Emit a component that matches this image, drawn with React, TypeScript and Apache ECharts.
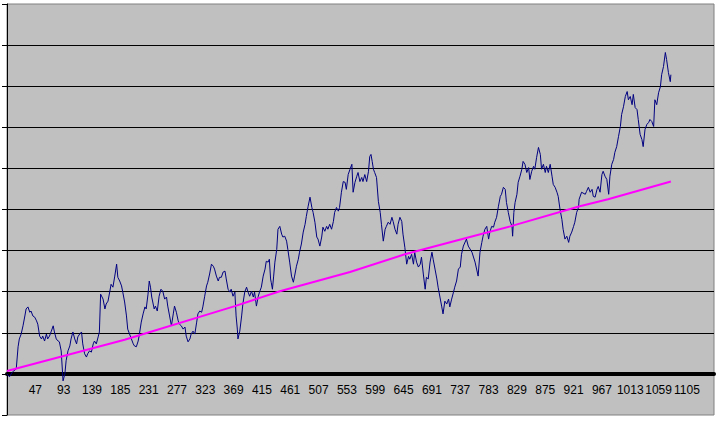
import React, { useEffect, useRef } from "react";
import * as echarts from "echarts";

// [category index (1-based), value]
const navyPoints: [number, number][] = [
  [1, 0.0], [5, -0.07], [10, 0.05], [16, 0.12], [19, 0.66], [21, 0.85], [24, 0.97], [27, 1.17], [30, 1.41], [32, 1.58],
  [35, 1.63], [38, 1.5], [40, 1.53], [43, 1.41], [46, 1.38], [49, 1.29], [51, 1.21], [54, 0.92], [57, 0.85], [59, 0.92],
  [62, 0.8], [65, 0.97], [67, 0.85], [70, 0.92], [73, 1.04], [76, 1.17], [78, 1.02], [81, 0.85], [84, 0.8], [86, 0.78],
  [89, 0.56], [92, -0.17], [95, 0.0], [97, 0.32], [100, 0.56], [103, 0.68], [105, 0.85], [108, 1.02], [111, 0.85], [114, 0.73],
  [116, 0.9], [119, 0.97], [122, 1.02], [124, 0.73], [127, 0.49], [130, 0.41], [132, 0.49], [135, 0.56], [138, 0.53], [141, 0.73],
  [143, 0.8], [146, 0.73], [149, 0.9], [151, 1.02], [153, 1.94], [157, 1.82], [160, 1.58], [162, 1.7], [165, 1.77], [168, 2.01],
  [170, 2.18], [173, 2.11], [176, 2.38], [179, 2.67], [181, 2.35], [184, 2.26], [187, 2.14], [189, 1.99], [192, 1.75], [195, 1.41],
  [197, 1.09], [200, 0.97], [203, 0.85], [206, 0.73], [208, 0.68], [211, 0.66], [214, 0.8], [216, 0.97], [219, 1.26], [222, 1.46],
  [225, 1.63], [227, 1.58], [230, 1.94], [232, 2.26], [234, 2.11], [236, 1.87], [240, 1.58], [242, 1.65], [245, 1.53], [248, 1.89],
  [251, 2.06], [254, 2.01], [257, 1.82], [260, 1.87], [262, 1.65], [265, 1.41], [268, 1.17], [271, 1.46], [273, 1.65], [276, 1.5],
  [279, 1.29], [281, 1.21], [284, 1.17], [287, 1.09], [290, 1.14], [292, 0.92], [295, 0.78], [298, 0.85], [300, 0.97], [303, 1.04],
  [306, 0.97], [309, 1.26], [311, 1.46], [314, 1.53], [317, 1.5], [319, 1.63], [322, 1.89], [325, 2.14], [327, 2.23], [330, 2.43],
  [333, 2.67], [336, 2.62], [338, 2.55], [341, 2.38], [344, 2.26], [346, 2.35], [349, 2.35], [352, 2.48], [355, 2.5], [357, 2.31],
  [360, 2.06], [363, 1.99], [365, 2.06], [368, 1.89], [371, 1.99], [373, 1.41], [375, 1.09], [376, 0.85], [379, 1.04], [382, 1.41],
  [384, 1.7], [387, 1.99], [390, 2.11], [392, 2.01], [395, 1.89], [398, 2.01], [401, 1.87], [403, 1.99], [406, 1.65], [409, 1.89],
  [411, 1.99], [414, 2.11], [417, 2.38], [420, 2.55], [422, 2.74], [425, 2.72], [427, 2.79], [429, 2.31], [430, 2.23], [432, 2.06],
  [434, 2.38], [436, 2.72], [439, 3.03], [441, 3.52], [444, 3.59], [447, 3.4], [449, 3.33], [452, 3.35], [455, 3.23], [457, 3.03],
  [460, 2.72], [463, 2.38], [466, 2.23], [468, 2.38], [471, 2.62], [474, 2.79], [476, 2.96], [479, 3.16], [482, 3.45], [485, 3.64],
  [487, 3.83], [490, 4.08], [493, 4.3], [496, 4.05], [498, 3.93], [501, 3.69], [504, 3.33], [506, 3.28], [509, 3.11], [512, 3.33],
  [514, 3.57], [517, 3.47], [520, 3.59], [522, 3.52], [525, 3.64], [528, 3.52], [531, 3.71], [533, 3.93], [536, 4.05], [539, 3.96],
  [541, 4.05], [544, 4.42], [547, 4.68], [550, 4.66], [552, 4.49], [555, 4.85], [558, 4.98], [561, 5.1], [563, 4.42], [566, 4.66],
  [569, 4.81], [571, 4.9], [574, 4.68], [577, 4.78], [579, 4.68], [582, 4.85], [585, 4.68], [588, 4.93], [590, 5.29], [592, 5.34],
  [594, 5.17], [596, 4.98], [598, 4.9], [601, 4.78], [604, 4.2], [607, 3.93], [609, 3.64], [612, 3.23], [615, 3.52], [617, 3.59],
  [620, 3.69], [623, 3.64], [626, 3.81], [628, 3.71], [631, 3.52], [634, 3.4], [636, 3.64], [639, 3.81], [642, 3.71], [644, 3.4],
  [647, 3.08], [650, 2.67], [653, 2.86], [655, 2.79], [658, 2.91], [661, 2.67], [663, 2.96], [666, 2.72], [669, 2.6], [672, 2.67],
  [674, 2.84], [677, 2.43], [680, 2.06], [682, 2.35], [685, 2.31], [688, 2.72], [691, 2.96], [693, 2.79], [696, 2.55], [699, 2.31],
  [701, 2.11], [704, 1.87], [707, 1.63], [709, 1.46], [712, 1.77], [715, 1.7], [718, 1.82], [720, 1.63], [723, 1.82], [726, 1.99],
  [728, 2.11], [731, 2.26], [734, 2.55], [737, 2.6], [739, 2.91], [742, 3.11], [747, 3.28], [750, 3.11], [756, 2.96], [761, 2.72],
  [766, 2.38], [769, 2.96], [772, 3.2], [774, 3.35], [777, 3.52], [780, 3.59], [783, 3.28], [785, 3.45], [788, 3.59], [791, 3.57],
  [793, 3.69], [796, 3.81], [799, 4.08], [802, 4.32], [804, 4.37], [807, 4.54], [810, 4.49], [812, 4.17], [815, 3.93], [818, 3.71],
  [821, 3.59], [822, 3.35], [824, 3.93], [826, 4.17], [829, 4.37], [831, 4.66], [834, 4.81], [837, 4.98], [839, 5.17], [842, 5.1],
  [845, 4.9], [848, 5.02], [850, 4.73], [853, 4.93], [856, 5.05], [858, 4.98], [861, 5.27], [864, 5.51], [867, 5.34], [869, 4.98],
  [872, 5.1], [875, 4.9], [877, 5.05], [880, 4.9], [883, 5.1], [886, 4.81], [888, 4.61], [891, 4.54], [894, 4.42], [896, 4.32],
  [899, 4.0], [902, 3.76], [904, 3.52], [907, 3.28], [910, 3.35], [913, 3.2], [915, 3.35], [918, 3.45], [921, 3.59], [923, 3.69],
  [926, 3.93], [929, 4.05], [930, 4.25], [934, 4.42], [940, 4.37], [942, 4.44], [945, 4.54], [948, 4.42], [951, 4.49], [953, 4.32],
  [956, 4.3], [959, 4.49], [961, 4.56], [964, 4.42], [967, 4.85], [969, 4.93], [972, 4.81], [975, 4.73], [978, 4.37], [980, 4.81],
  [983, 5.1], [986, 5.22], [988, 5.39], [991, 5.53], [994, 5.78], [997, 6.02], [999, 6.31], [1002, 6.5], [1005, 6.75], [1008, 6.87],
  [1010, 6.67], [1013, 6.75], [1016, 6.55], [1018, 6.8], [1021, 6.48], [1024, 6.43], [1026, 6.19], [1029, 5.83], [1032, 5.7], [1034, 5.53],
  [1037, 5.95], [1040, 6.07], [1043, 6.12], [1045, 6.19], [1048, 6.14], [1051, 6.02], [1053, 6.67], [1056, 6.55], [1059, 6.84], [1062, 6.99],
  [1064, 7.28], [1067, 7.48], [1070, 7.82], [1072, 7.65], [1075, 7.33], [1078, 7.11], [1079, 7.28],
];

const trendPoints: [number, number][] = [
  [1, 0.07], [192, 0.83], [371, 1.65], [444, 2.01], [558, 2.48], [647, 2.91],
  [745, 3.3], [818, 3.59], [931, 4.08], [977, 4.25], [1079, 4.68],
];

const lastCategory = 1149;
const labelStep = 46;
const yMin = -1;
const yMax = 9;

export default function App() {
  const ref = useRef<HTMLDivElement>(null);
  useEffect(() => {
    const chart = echarts.init(ref.current as HTMLDivElement, null, { renderer: "svg" });
    chart.setOption({
      animation: false,
      backgroundColor: "#ffffff",
      grid: {
        left: 7,
        right: 6,
        top: 4,
        bottom: 6,
        show: true,
        backgroundColor: "#C0C0C0",
        borderColor: "#808080",
        borderWidth: 1,
        containLabel: false,
        outerBoundsMode: "none",
      },
      xAxis: {
        type: "value",
        min: 0,
        max: lastCategory - 1,
        interval: labelStep,
        axisLine: { show: true, onZero: true, lineStyle: { color: "#000000", width: 4 } },
        axisTick: { show: false },
        splitLine: { show: false },
        axisLabel: {
          show: true,
          margin: -31,
          fontSize: 12,
          fontFamily: "Liberation Sans, Arial, sans-serif",
          color: "#000000",
          formatter: (v: number) => (v === 0 || v % labelStep !== 0 ? "" : String(v + 1)),
        },
      },
      yAxis: {
        type: "value",
        min: yMin,
        max: yMax,
        interval: 1,
        axisLine: { show: true, lineStyle: { color: "#000000", width: 1 } },
        axisTick: { show: true, length: 5, lineStyle: { color: "#000000" } },
        axisLabel: { show: false },
        splitLine: {
          show: true,
          showMinLine: false,
          showMaxLine: false,
          lineStyle: { color: "#000000", width: 1 },
        },
      },
      series: [
        {
          type: "line",
          data: navyPoints.map(([i, v]) => [i - 1, v]),
          showSymbol: false,
          symbol: "none",
          lineStyle: { color: "#000080", width: 1 },
          silent: true,
        },
        {
          type: "line",
          data: trendPoints.map(([i, v]) => [i - 1, v]),
          showSymbol: false,
          symbol: "none",
          lineStyle: { color: "#FF00FF", width: 2 },
          silent: true,
        },
      ],
    });
    return () => chart.dispose();
  }, []);
  return (
    <div
      ref={ref}
      style={{ position: "fixed", left: 0, top: 0, width: 720, height: 421, background: "#ffffff" }}
    />
  );
}
